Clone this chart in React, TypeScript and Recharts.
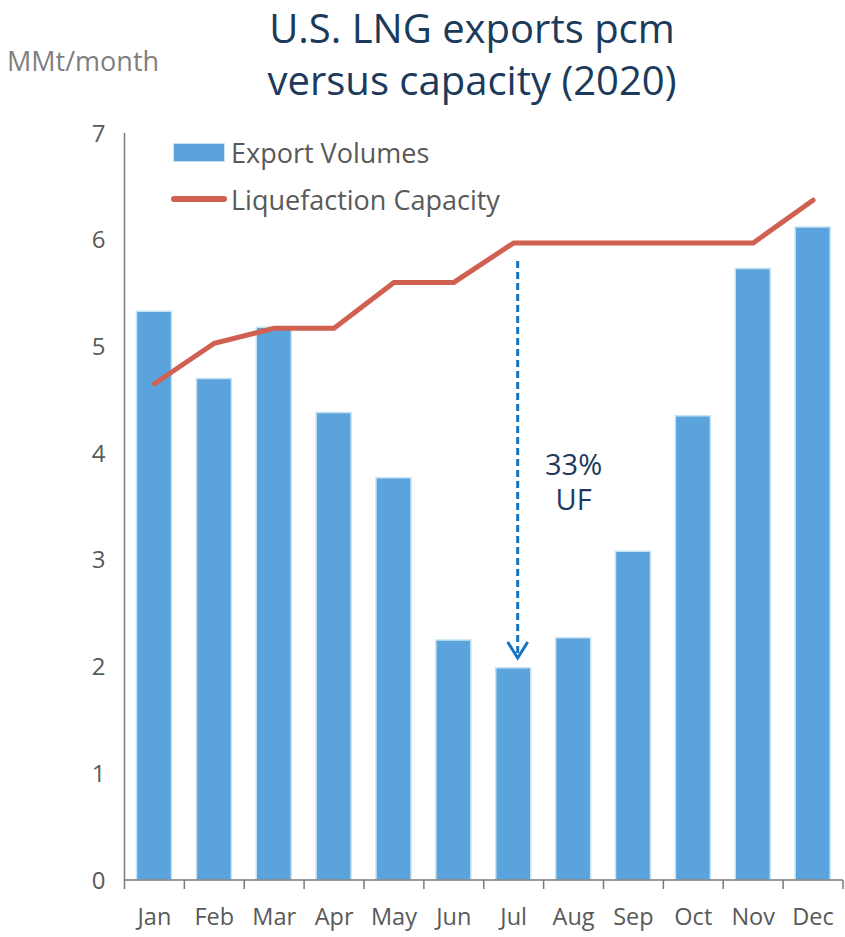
import { ComposedChart, Bar, Line, XAxis, YAxis, ReferenceLine, ReferenceDot } from 'recharts'

const months = ['Jan', 'Feb', 'Mar', 'Apr', 'May', 'Jun', 'Jul', 'Aug', 'Sep', 'Oct', 'Nov', 'Dec']
const exportVolumes = [5.33, 4.7, 5.18, 4.38, 3.77, 2.25, 1.99, 2.27, 3.08, 4.35, 5.73, 6.12]
const liquefactionCapacity = [4.65, 5.03, 5.17, 5.17, 5.6, 5.6, 5.97, 5.97, 5.97, 5.97, 5.97, 6.37]
const yTicks = [0, 1, 2, 3, 4, 5, 6, 7]
const arrowFrom = 5.8
const arrowTo = 2.08

const data = months.map((m, i) => ({
  month: m,
  exports: exportVolumes[i],
  capacity: liquefactionCapacity[i]
}))

const FONT = '"Segoe UI", "Open Sans", "Noto Sans", sans-serif'
const GREY = '#595959'
const NAVY = '#1b3a5c'

// tick marks sit on the band edges, labels on the band centre
const XTick = (props: any) => {
  const { x, y, payload, index } = props
  const half = 29.95
  return (
    <g>
      <line x1={x - half} y1={y - 8} x2={x - half} y2={y + 1} stroke='#7a7a7a' strokeWidth={1.5} />
      {index === months.length - 1 && (
        <line x1={x + half} y1={y - 8} x2={x + half} y2={y + 1} stroke='#7a7a7a' strokeWidth={1.5} />
      )}
      <text x={x} y={y + 37} textAnchor='middle' fill={GREY} fontSize={23.5} fontFamily={FONT}>
        {payload.value}
      </text>
    </g>
  )
}

const Arrow = (props: any) => {
  const { x1, y1, y2 } = props
  const x = x1 + 4
  return (
    <g>
      <line x1={x} y1={y1} x2={x} y2={y2 - 2} stroke='#1572c0' strokeWidth={3} strokeDasharray='7 4' />
      <path d={`M${x - 10},${y2 - 16} L${x},${y2} L${x + 10},${y2 - 16}`} fill='none' stroke='#1572c0' strokeWidth={3} />
    </g>
  )
}

export default function App() {
  return (
    <div style={{ position: 'absolute', left: 0, top: 0, width: 845, height: 937, background: '#fff', fontFamily: FONT }}>
      <div style={{ position: 'absolute', left: 172, width: 600, top: 2, textAlign: 'center', color: NAVY, fontSize: 40, lineHeight: '52px' }}>
        U.S. LNG exports pcm
        <br />
        versus capacity (2020)
      </div>
      <div style={{ position: 'absolute', left: 7, top: 42, color: '#7f7f7f', fontSize: 27 }}>MMt/month</div>
      <div style={{ position: 'absolute', left: 171, top: 131, fontSize: 27, color: GREY, zIndex: 2 }}>
        <div style={{ display: 'flex', alignItems: 'center', height: 42 }}>
          <span style={{ width: 50, height: 17, background: '#5ba3dc', border: '1.5px solid #c5e3f2', marginRight: 6, marginLeft: 2 }} />
          Export Volumes
        </div>
        <div style={{ display: 'flex', alignItems: 'center', height: 52 }}>
          <span style={{ width: 56, height: 6, background: '#d0604f', borderRadius: 3, marginRight: 4 }} />
          Liquefaction Capacity
        </div>
      </div>
      <ComposedChart width={845} height={937} data={data} margin={{ top: 133, right: 2, bottom: 0, left: 0 }}>
        <XAxis dataKey='month' height={57} tickLine={false} axisLine={{ stroke: '#7a7a7a', strokeWidth: 1.5 }} tick={<XTick />} interval={0} />
        <YAxis
          domain={[0, 7]}
          ticks={yTicks}
          width={124.5}
          tickLine={false}
          tickSize={0}
          tickMargin={19}
          axisLine={{ stroke: '#7a7a7a', strokeWidth: 1.5 }}
          tick={{ fill: GREY, fontSize: 24, fontFamily: FONT }}
        />
        <Bar dataKey='exports' name='Export Volumes' barSize={35} fill='#5ba3dc' stroke='#c5e3f2' strokeWidth={1.5} isAnimationActive={false} />
        <Line
          dataKey='capacity'
          name='Liquefaction Capacity'
          type='linear'
          stroke='#d0604f'
          strokeWidth={5}
          strokeLinecap='round'
          dot={false}
          activeDot={false}
          isAnimationActive={false}
        />
        <ReferenceLine segment={[{ x: 'Jul', y: arrowFrom }, { x: 'Jul', y: arrowTo }]} shape={<Arrow />} />
        <ReferenceDot x='Aug' y={3.89} r={0} label={{ value: '33%', fill: NAVY, fontSize: 29, fontFamily: FONT, position: 'center' }} />
        <ReferenceDot x='Aug' y={3.56} r={0} label={{ value: 'UF', fill: NAVY, fontSize: 29, fontFamily: FONT, position: 'center' }} />
      </ComposedChart>
    </div>
  )
}
